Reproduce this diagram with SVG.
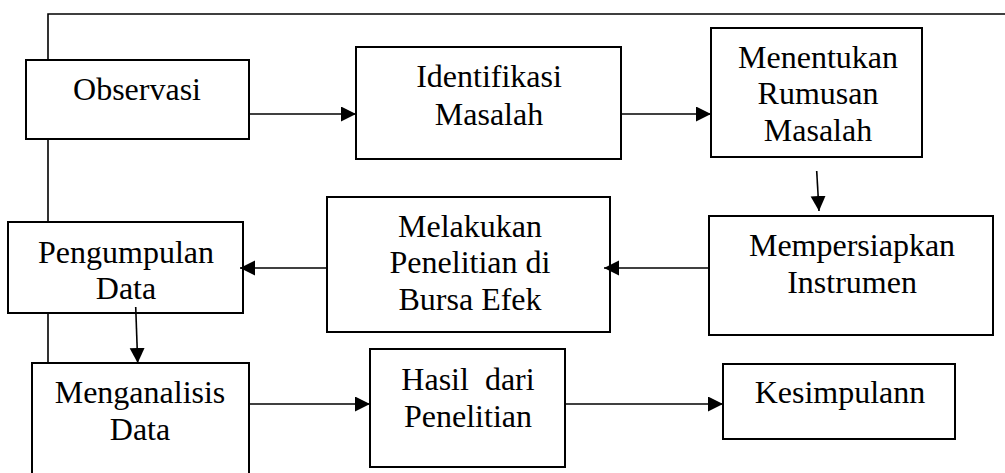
<svg xmlns="http://www.w3.org/2000/svg" width="1005" height="473" viewBox="0 0 1005 473">
<style>
.box{fill:#fff;stroke:#000;stroke-width:2}
.t{font-family:'Liberation Serif','Times New Roman',Times,'Nimbus Roman','Noto Serif',FreeSerif,'DejaVu Serif',serif;font-size:32px;fill:#000;text-anchor:middle}
.ln{fill:none;stroke:#000;stroke-width:1.6}
</style>
<defs>
<marker id="ah" markerUnits="userSpaceOnUse" markerWidth="16" markerHeight="16" refX="15" refY="7.5" orient="auto">
<path d="M0,0 L15,7.5 L0,15 z" fill="#000"/>
</marker>
</defs>
<rect width="1005" height="473" fill="#fff"/>
<g id="n-observasi"><rect class="box" x="26" y="60" width="223" height="79"/><text class="t" x="137" y="100">Observasi</text></g>
<g id="n-identifikasi"><rect class="box" x="356" y="47" width="265" height="112"/><text class="t" x="489" y="87">Identifikasi</text><text class="t" x="489" y="125">Masalah</text></g>
<g id="n-menentukan"><rect class="box" x="711" y="28" width="211" height="129"/><text class="t" x="818" y="68">Menentukan</text><text class="t" x="818" y="104">Rumusan</text><text class="t" x="818" y="141">Masalah</text></g>
<g id="n-mempersiapkan"><rect class="box" x="709" y="216" width="284" height="119"/><text class="t" x="852" y="256">Mempersiapkan</text><text class="t" x="852" y="293">Instrumen</text></g>
<g id="n-melakukan"><rect class="box" x="327" y="197" width="283" height="135"/><text class="t" x="470" y="237">Melakukan</text><text class="t" x="470" y="273">Penelitian di</text><text class="t" x="470" y="310">Bursa Efek</text></g>
<g id="n-pengumpulan"><rect class="box" x="8" y="222" width="235" height="91"/><text class="t" x="126" y="263">Pengumpulan</text><text class="t" x="126" y="299">Data</text></g>
<g id="n-menganalisis"><rect class="box" x="32" y="363" width="217" height="130"/><text class="t" x="140" y="403">Menganalisis</text><text class="t" x="140" y="440">Data</text></g>
<g id="n-hasil"><rect class="box" x="370" y="349" width="195" height="118"/><text class="t" x="468" y="390" xml:space="preserve">Hasil  dari</text><text class="t" x="468" y="427">Penelitian</text></g>
<g id="n-kesimpulan"><rect class="box" x="723" y="364" width="232" height="75"/><text class="t" x="840" y="403">Kesimpulann</text></g>
<g id="connectors">
<path class="ln" d="M1005,14 H48 V60 M48,139 V222 M48,313 V363"/>
<line class="ln" x1="249" y1="114" x2="356" y2="114" marker-end="url(#ah)"/>
<line class="ln" x1="621" y1="114" x2="711" y2="114" marker-end="url(#ah)"/>
<line class="ln" x1="816.7" y1="171" x2="819" y2="211" marker-end="url(#ah)"/>
<line class="ln" x1="709" y1="268" x2="604" y2="268" marker-end="url(#ah)"/>
<line class="ln" x1="327" y1="268" x2="240" y2="268" marker-end="url(#ah)"/>
<line class="ln" x1="135.7" y1="307" x2="137.7" y2="363" marker-end="url(#ah)"/>
<line class="ln" x1="249" y1="404" x2="370" y2="404" marker-end="url(#ah)"/>
<line class="ln" x1="565" y1="404" x2="723" y2="404" marker-end="url(#ah)"/>
</g>
</svg>
